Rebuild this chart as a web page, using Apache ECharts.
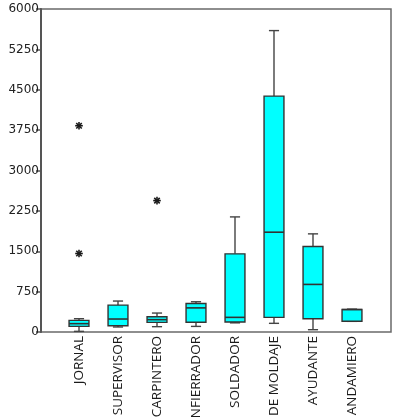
<!DOCTYPE html>
<html>
<head>
<meta charset="utf-8">
<script src="https://cdn.jsdelivr.net/npm/echarts@6/dist/echarts.min.js"></script>
<style>
html,body{margin:0;padding:0;background:#fff;}
#c{width:396px;height:417px;}
</style>
</head>
<body>
<div id="c"></div>
<script>
var categories = ['JORNAL','SUPERVISOR','CARPINTERO','ENFIERRADOR','SOLDADOR','DE MOLDAJE','AYUDANTE','ANDAMIERO'];
var mins    = [12,   93,  99, 104, 170,  161,   43, 198];
var q1s     = [105, 117, 179, 182, 185,  272,  247, 200];
var medians = [155, 241, 229, 448, 272, 1854,  884, 415];
var q3s     = [216, 500, 284, 530, 1452, 4382, 1588, 420];
var maxs    = [247, 575, 352, 562, 2138, 5599, 1823, 425];
var outlierCats   = [0, 0, 2];
var outlierValues = [3832, 1458, 2441];

var yMin = 0, yMax = 6000, yInterval = 750;

var boxData = categories.map(function(c, i){
  return [i, mins[i], q1s[i], medians[i], q3s[i], maxs[i]];
});
var outData = outlierCats.map(function(c, i){ return [c, outlierValues[i]]; });

var FONT = 'Open Sans';
var chart = echarts.init(document.getElementById('c'), null, {renderer:'canvas'});

function renderBox(params, api){
  var x = api.value(0);
  var band = api.size([1, 0])[0];
  var bw = band * 0.51, cw = band * 0.26;
  var pMin = api.coord([x, api.value(1)]);
  var pQ1 = api.coord([x, api.value(2)]);
  var pMed = api.coord([x, api.value(3)]);
  var pQ3 = api.coord([x, api.value(4)]);
  var pMax = api.coord([x, api.value(5)]);
  var cx = pMed[0];
  var lineStyle = {stroke:'#444', lineWidth:1.4};
  return {
    type:'group',
    children:[
      {type:'line', shape:{x1:cx,y1:pMax[1],x2:cx,y2:pQ3[1]}, style:lineStyle},
      {type:'line', shape:{x1:cx,y1:pQ1[1],x2:cx,y2:pMin[1]}, style:lineStyle},
      {type:'line', shape:{x1:cx-cw/2,y1:pMax[1],x2:cx+cw/2,y2:pMax[1]}, style:lineStyle},
      {type:'line', shape:{x1:cx-cw/2,y1:pMin[1],x2:cx+cw/2,y2:pMin[1]}, style:lineStyle},
      {type:'rect', shape:{x:cx-bw/2,y:pQ3[1],width:bw,height:pQ1[1]-pQ3[1]},
        style:{fill:'#00FFFF', stroke:'#333', lineWidth:1.4}},
      {type:'line', shape:{x1:cx-bw/2,y1:pMed[1],x2:cx+bw/2,y2:pMed[1]}, style:{stroke:'#333', lineWidth:1.6}}
    ]
  };
}

function renderStar(params, api){
  var p = api.coord([api.value(0), api.value(1)]);
  var r = 3.8, d = r * 0.72;
  var st = {stroke:'#1a1a1a', lineWidth:1.6};
  return {
    type:'group',
    children:[
      {type:'line', shape:{x1:p[0]-r,y1:p[1],x2:p[0]+r,y2:p[1]}, style:st},
      {type:'line', shape:{x1:p[0],y1:p[1]-r,x2:p[0],y2:p[1]+r}, style:st},
      {type:'line', shape:{x1:p[0]-d,y1:p[1]-d,x2:p[0]+d,y2:p[1]+d}, style:st},
      {type:'line', shape:{x1:p[0]-d,y1:p[1]+d,x2:p[0]+d,y2:p[1]-d}, style:st}
    ]
  };
}

chart.setOption({
  animation:false,
  backgroundColor:'#fff',
  grid:[
    {left:41, right:5, top:9, bottom:85, show:true, borderColor:'#6a6a6a', borderWidth:1.5, backgroundColor:'transparent',
      containLabel:false, outerBoundsMode:'none'},
    {left:59.5, right:24.5, top:9, bottom:85, containLabel:false, outerBoundsMode:'none'}
  ],
  xAxis:[
    {type:'value', gridIndex:0, show:false, min:0, max:1},
    {type:'category', gridIndex:1, data:categories,
      axisLine:{show:false}, axisTick:{show:false},
      axisLabel:{rotate:90, margin:4, fontFamily:FONT, fontSize:13.5, color:'#1a1a1a', interval:0}}
  ],
  yAxis:[
    {type:'value', gridIndex:0, min:yMin, max:yMax, interval:yInterval,
      axisLine:{show:true, lineStyle:{color:'#555', width:2}},
      axisTick:{show:true, length:5, lineStyle:{color:'#555', width:1.5}},
      splitLine:{show:false},
      axisLabel:{margin:2, fontFamily:'DejaVu Sans', fontSize:12, color:'#222',
        formatter:function(v){ return String(v); }}},
    {type:'value', gridIndex:1, min:yMin, max:yMax, interval:yInterval, show:false, splitLine:{show:false}}
  ],
  series:[
    {type:'custom', xAxisIndex:1, yAxisIndex:1, data:boxData, renderItem:renderBox,
      encode:{x:0, y:[1,2,3,4,5]}, clip:false},
    {type:'custom', xAxisIndex:1, yAxisIndex:1, data:outData, renderItem:renderStar,
      encode:{x:0, y:1}, clip:false}
  ]
});
</script>
</body>
</html>
